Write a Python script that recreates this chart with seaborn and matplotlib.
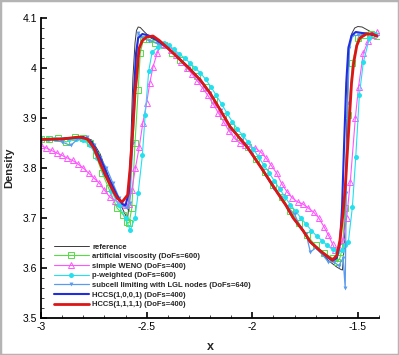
import numpy as np
import pandas as pd
import matplotlib
matplotlib.use('Agg')
import matplotlib.pyplot as plt
import seaborn as sns
from matplotlib.patches import Rectangle
from matplotlib.ticker import MultipleLocator, FixedLocator, FixedFormatter

# ---- data ----
ref_x = [-3.0, -2.9, -2.8, -2.76, -2.72, -2.68, -2.64, -2.6, -2.59, -2.585, -2.575, -2.565,
         -2.555, -2.548, -2.54, -2.53, -2.51, -2.48, -2.44, -2.4, -2.34, -2.3, -2.246, -2.2,
         -2.15, -2.104, -2.06, -2.024, -1.96, -1.92, -1.88, -1.84, -1.806, -1.76, -1.725,
         -1.68, -1.64, -1.6, -1.58, -1.573, -1.565, -1.558, -1.552, -1.546, -1.54, -1.53,
         -1.515, -1.5, -1.48, -1.45, -1.42]
ref_y = [3.857, 3.860, 3.862, 3.856, 3.828, 3.782, 3.742, 3.706, 3.700, 3.720, 3.850, 3.980,
         4.050, 4.075, 4.082, 4.081, 4.072, 4.060, 4.052, 4.040, 4.016, 4.000, 3.976, 3.950,
         3.915, 3.882, 3.860, 3.842, 3.802, 3.776, 3.750, 3.725, 3.700, 3.675, 3.652,
         3.632, 3.615, 3.602, 3.597, 3.596, 3.640, 3.780, 3.900, 3.990, 4.040, 4.068,
         4.080, 4.083, 4.082, 4.075, 4.068]

av_x = [-3.0, -2.96, -2.92, -2.88, -2.84, -2.8, -2.77, -2.74, -2.71, -2.68, -2.64, -2.61,
        -2.595, -2.583, -2.57, -2.555, -2.54, -2.53, -2.515, -2.49, -2.46, -2.42, -2.38,
        -2.34, -2.3, -2.26, -2.22, -2.18, -2.14, -2.1, -2.06, -2.02, -1.98, -1.94, -1.9,
        -1.86, -1.82, -1.78, -1.74, -1.7, -1.66, -1.62, -1.597, -1.585, -1.573, -1.56,
        -1.545, -1.526, -1.5, -1.47, -1.44, -1.41]
av_y = [3.857, 3.857, 3.860, 3.852, 3.862, 3.860, 3.850, 3.825, 3.790, 3.760, 3.720, 3.706,
        3.692, 3.690, 3.720, 3.850, 3.956, 4.030, 4.058, 4.058, 4.050, 4.045, 4.030,
        4.016, 4.000, 3.983, 3.962, 3.935, 3.905, 3.882, 3.862, 3.842, 3.818, 3.792, 3.766,
        3.742, 3.715, 3.690, 3.665, 3.645, 3.630, 3.620, 3.612, 3.620, 3.642, 3.720,
        3.906, 4.010, 4.060, 4.066, 4.068, 4.064]

weno_x = [-3.0, -2.975, -2.95, -2.925, -2.9, -2.875, -2.85, -2.825, -2.8, -2.775, -2.75,
          -2.725, -2.7, -2.675, -2.65, -2.625, -2.6, -2.585, -2.57, -2.553, -2.535, -2.518,
          -2.5, -2.485, -2.47, -2.45, -2.43, -2.41, -2.385, -2.36, -2.335, -2.31, -2.285,
          -2.26, -2.235, -2.21, -2.185, -2.16, -2.135, -2.11, -2.085, -2.06, -2.035, -2.01,
          -1.985, -1.96, -1.935, -1.91, -1.885, -1.86, -1.835, -1.81, -1.785, -1.76, -1.735,
          -1.71, -1.685, -1.66, -1.64, -1.62, -1.607, -1.59, -1.57, -1.553, -1.536, -1.512,
          -1.497, -1.474, -1.45, -1.43, -1.41]
weno_y = [3.845, 3.840, 3.835, 3.830, 3.825, 3.820, 3.815, 3.808, 3.800, 3.790, 3.780,
          3.770, 3.756, 3.742, 3.735, 3.730, 3.726, 3.728, 3.756, 3.800, 3.842, 3.890,
          3.930, 3.970, 4.002, 4.030, 4.048, 4.045, 4.035, 4.025, 4.012, 4.000, 3.988,
          3.974, 3.960, 3.945, 3.928, 3.910, 3.892, 3.874, 3.860, 3.850, 3.845, 3.842,
          3.840, 3.832, 3.820, 3.805, 3.790, 3.768, 3.752, 3.740, 3.732, 3.728, 3.720,
          3.712, 3.700, 3.682, 3.666, 3.648, 3.636, 3.640, 3.656, 3.700, 3.772, 3.900,
          3.962, 4.030, 4.055, 4.065, 4.072]

pw_x = [-3.0, -2.967, -2.933, -2.9, -2.867, -2.833, -2.8, -2.767, -2.733, -2.7, -2.667,
        -2.633, -2.6, -2.578, -2.555, -2.54, -2.52, -2.507, -2.49, -2.474, -2.445, -2.42,
        -2.395, -2.37, -2.345, -2.32, -2.295, -2.27, -2.245, -2.22, -2.195, -2.17, -2.145,
        -2.12, -2.095, -2.07, -2.045, -2.02, -1.995, -1.97, -1.945, -1.92, -1.895, -1.87,
        -1.845, -1.82, -1.795, -1.77, -1.745, -1.72, -1.695, -1.67, -1.645, -1.62, -1.597,
        -1.575, -1.56, -1.545, -1.526, -1.51, -1.493, -1.474, -1.445, -1.42]
pw_y = [3.857, 3.858, 3.858, 3.858, 3.857, 3.857, 3.855, 3.845, 3.820, 3.790, 3.755,
        3.725, 3.700, 3.676, 3.700, 3.750, 3.826, 3.906, 3.994, 4.032, 4.042, 4.050,
        4.045, 4.037, 4.028, 4.020, 4.010, 4.000, 3.990, 3.977, 3.962, 3.945, 3.928,
        3.910, 3.893, 3.878, 3.865, 3.852, 3.838, 3.822, 3.806, 3.790, 3.774, 3.758,
        3.742, 3.727, 3.714, 3.700, 3.688, 3.675, 3.664, 3.655, 3.645, 3.637, 3.632,
        3.636, 3.645, 3.652, 3.722, 3.822, 3.946, 4.012, 4.060, 4.068]

lgl_x = [-3.0, -2.95, -2.9, -2.86, -2.82, -2.78, -2.75, -2.72, -2.69, -2.66, -2.63, -2.61,
         -2.595, -2.58, -2.565, -2.55, -2.54, -2.52, -2.49, -2.45, -2.4, -2.35, -2.3, -2.25,
         -2.2, -2.15, -2.1, -2.05, -2.0, -1.95, -1.9, -1.865, -1.834, -1.8, -1.77, -1.745,
         -1.725, -1.7, -1.67, -1.64, -1.615, -1.59, -1.57, -1.56, -1.555, -1.548, -1.54,
         -1.525, -1.5, -1.47, -1.44, -1.41]
lgl_y = [3.857, 3.858, 3.852, 3.845, 3.860, 3.862, 3.845, 3.820, 3.800, 3.770, 3.740, 3.725,
         3.720, 3.730, 3.850, 3.980, 4.070, 4.060, 4.055, 4.050, 4.040, 4.020, 4.000, 3.975,
         3.950, 3.915, 3.878, 3.855, 3.828, 3.795, 3.760, 3.742, 3.722, 3.708, 3.680, 3.668,
         3.632, 3.640, 3.628, 3.612, 3.612, 3.605, 3.620, 3.560, 3.750, 3.930, 4.040,
         4.065, 4.065, 4.068, 4.068, 4.064]

hb_x = [-3.0, -2.9, -2.8, -2.76, -2.72, -2.68, -2.64, -2.615, -2.6, -2.585, -2.57, -2.56,
        -2.55, -2.54, -2.52, -2.49, -2.46, -2.4, -2.34, -2.3, -2.246, -2.2, -2.15, -2.104,
        -2.06, -2.024, -1.96, -1.92, -1.88, -1.84, -1.806, -1.76, -1.725, -1.68, -1.64,
        -1.62, -1.6, -1.585, -1.575, -1.565, -1.555, -1.545, -1.53, -1.51, -1.48, -1.45,
        -1.41]
hb_y = [3.857, 3.858, 3.862, 3.852, 3.820, 3.780, 3.745, 3.728, 3.725, 3.750, 3.850, 3.950,
        4.030, 4.060, 4.068, 4.065, 4.058, 4.040, 4.016, 4.000, 3.976, 3.950, 3.915, 3.882,
        3.860, 3.842, 3.802, 3.776, 3.750, 3.725, 3.700, 3.675, 3.652, 3.635, 3.620,
        3.615, 3.620, 3.650, 3.720, 3.850, 3.970, 4.040, 4.065, 4.072, 4.070, 4.068,
        4.064]

hr_x = [-3.0, -2.9, -2.82, -2.78, -2.75, -2.72, -2.7, -2.66, -2.64, -2.616, -2.59, -2.578,
        -2.565, -2.555, -2.545, -2.54, -2.535, -2.52, -2.5, -2.47, -2.44, -2.4, -2.34, -2.3,
        -2.246, -2.2, -2.15, -2.104, -2.06, -2.024, -1.96, -1.92, -1.88, -1.84, -1.806,
        -1.76, -1.725, -1.68, -1.64, -1.62, -1.6, -1.585, -1.57, -1.56, -1.55, -1.54,
        -1.53, -1.52, -1.505, -1.49, -1.46, -1.43, -1.41]
hr_y = [3.857, 3.858, 3.862, 3.858, 3.840, 3.810, 3.790, 3.755, 3.740, 3.732, 3.746, 3.800,
        3.880, 3.950, 3.990, 4.020, 4.040, 4.055, 4.062, 4.064, 4.055, 4.040, 4.016, 4.000,
        3.976, 3.950, 3.915, 3.882, 3.860, 3.842, 3.802, 3.776, 3.750, 3.725, 3.700,
        3.675, 3.652, 3.635, 3.622, 3.616, 3.625, 3.655, 3.710, 3.760, 3.830, 3.900,
        3.970, 4.010, 4.045, 4.060, 4.068, 4.068, 4.064]

labels = ['reference', 'artificial viscosity (DoFs=600)', 'simple WENO (DoFs=400)',
          'p-weighted (DoFs=600)', 'subcell limiting with LGL nodes (DoFs=640)',
          'HCCS(1,0,0,1) (DoFs=400)', 'HCCS(1,1,1,1) (DoFs=400)']
y_ticks = [3.5, 3.6, 3.7, 3.8, 3.9, 4.0, 4.1]
y_ticklabels = ['3.5', '3.6', '3.7', '3.8', '3.9', '4', '4.1']
x_ticks = [-3, -2.5, -2, -1.5]
x_ticklabels = ['-3', '-2.5', '-2', '-1.5']

# ---- styles ----
series = [
    (ref_x, ref_y, dict(color='#3a3a3a', lw=0.7)),
    (av_x, av_y, dict(color='#55dd44', lw=0.8, marker='s', markersize=4.2,
                      markerfacecolor='none', markeredgecolor='#55dd44', markeredgewidth=0.7)),
    (weno_x, weno_y, dict(color='#ff55ff', lw=0.8, marker='^', markersize=4.2,
                          markerfacecolor='none', markeredgecolor='#ff55ff', markeredgewidth=0.7)),
    (pw_x, pw_y, dict(color='#22e0ee', lw=0.8, marker='o', markersize=3.6,
                      markeredgecolor='#22e0ee', markeredgewidth=0)),
    (lgl_x, lgl_y, dict(color='#5a9bef', lw=0.9, marker='v', markersize=2.8,
                        markeredgecolor='#5a9bef', markeredgewidth=0)),
    (hb_x, hb_y, dict(color='#1f2fe0', lw=1.5)),
    (hr_x, hr_y, dict(color='#dd1515', lw=2.0)),
]

sns.set_style('white')
plt.rcParams['font.family'] = ['Liberation Sans', 'DejaVu Sans']

fig = plt.figure(figsize=(3.99, 3.55), dpi=100)
ax = fig.add_axes([41 / 399, 1 - 318 / 355, 338 / 399, 300 / 355])

for (xs, ys, st), lab in zip(series, labels):
    df = pd.DataFrame({'x': xs, 'y': ys})
    sns.lineplot(data=df, x='x', y='y', ax=ax, sort=False, estimator=None,
                 label=lab, **st)

ax.set_xlim(-3, -1.4)
ax.set_ylim(3.5, 4.1)
ax.yaxis.set_major_locator(FixedLocator(y_ticks))
ax.yaxis.set_major_formatter(FixedFormatter(y_ticklabels))
ax.yaxis.set_minor_locator(MultipleLocator(0.02))
ax.xaxis.set_major_locator(FixedLocator(x_ticks))
ax.xaxis.set_major_formatter(FixedFormatter(x_ticklabels))
ax.xaxis.set_minor_locator(MultipleLocator(0.1))
ax.tick_params(which='major', direction='in', length=4, width=1.2, labelsize=7.5,
               pad=3, colors='black')
ax.tick_params(which='minor', direction='in', length=2.2, width=0.6)
ax.tick_params(axis='x', which='both', bottom=True)
ax.tick_params(axis='y', which='both', left=True)

for s in ['top', 'right']:
    ax.spines[s].set_visible(False)
for s in ['left', 'bottom']:
    ax.spines[s].set_linewidth(1.3)
    ax.spines[s].set_color('black')

ax.set_xlabel('x', fontsize=9, fontweight='bold', labelpad=6)
ax.set_ylabel('Density', fontsize=8, fontweight='bold', labelpad=6)

leg = ax.legend(loc='lower left', bbox_to_anchor=(0.028, 0.022), frameon=False,
                prop={'size': 5.5, 'weight': 'bold'}, handlelength=4.6,
                labelspacing=0.3, handletextpad=0.5, borderaxespad=0)

fig.patches.append(Rectangle((0, 0), 1, 1, transform=fig.transFigure, fill=False,
                             edgecolor='#b4b4b4', lw=2.5))

fig.savefig('out.png', dpi=100)
